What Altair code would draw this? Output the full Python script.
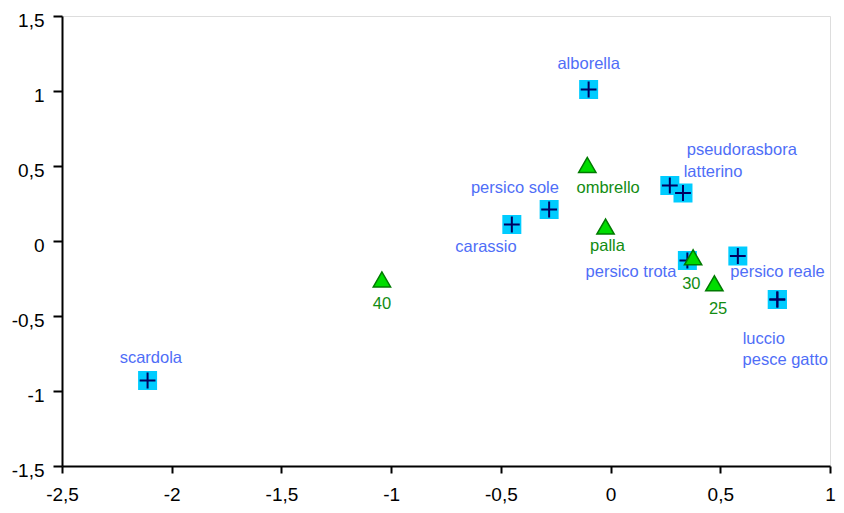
import altair as alt
import pandas as pd

# Species (objects) - coordinates on the two axes
species = ["scardola", "alborella", "persico sole", "carassio", "pseudorasbora",
           "latterino", "persico trota", "persico reale", "luccio", "pesce gatto"]
sp_x = [-2.11, -0.10, -0.28, -0.45, 0.27, 0.33, 0.35, 0.58, 0.76, 0.76]
sp_y = [-0.93, 1.01, 0.21, 0.11, 0.37, 0.32, -0.13, -0.10, -0.39, -0.39]
# label anchor points (data units)
sp_lx = [-2.095, -0.10, -0.436, -0.568, 0.598, 0.467, 0.093, 0.761, 0.698, 0.796]
sp_ly = [-0.813, 1.145, 0.322, -0.076, 0.573, 0.429, -0.238, -0.238, -0.689, -0.827]

# Sites / variables (triangles)
sites = ["ombrello", "palla", "30", "25", "40"]
st_x = [-0.106, -0.023, 0.376, 0.473, -1.042]
st_y = [0.507, 0.096, -0.109, -0.282, -0.256]
st_lx = [-0.011, -0.014, 0.368, 0.490, -1.042]
st_ly = [0.322, -0.065, -0.320, -0.489, -0.455]

x_ticks = [-2.5, -2, -1.5, -1, -0.5, 0, 0.5, 1]
y_ticks = [-1.5, -1, -0.5, 0, 0.5, 1, 1.5]

sp = pd.DataFrame({"name": species, "x": sp_x, "y": sp_y, "lx": sp_lx, "ly": sp_ly})
st = pd.DataFrame({"name": sites, "x": st_x, "y": st_y, "lx": st_lx, "ly": st_ly})

FONT = "Liberation Sans"
lab_expr = "replace(toString(datum.value), '.', ',')"

xs = alt.Scale(domain=[-2.5, 1], nice=False, zero=False)
ys = alt.Scale(domain=[-1.5, 1.5], nice=False, zero=False)

xaxis = alt.Axis(values=x_ticks, labelExpr=lab_expr, title=None, grid=False,
                 tickSize=7, tickWidth=2, tickColor="black", domainColor="black",
                 domainWidth=2, labelFontSize=19, labelFont=FONT, labelColor="black",
                 labelPadding=12, labelFlush=False, labelOverlap=False)
yaxis = alt.Axis(values=y_ticks, labelExpr=lab_expr, title=None, grid=False,
                 tickSize=9, tickWidth=2, tickColor="black", domainColor="black",
                 domainWidth=2, labelFontSize=19, labelFont=FONT, labelColor="black",
                 labelPadding=9, labelOffset=4, labelFlush=False, labelOverlap=False)

squares = alt.Chart(sp).mark_point(shape="square", filled=True, size=361,
                                   color="#00ccff", opacity=1).encode(
    x=alt.X("x:Q", scale=xs, axis=xaxis),
    y=alt.Y("y:Q", scale=ys, axis=yaxis),
)

crosses = alt.Chart(sp).mark_point(shape="M-1,0H1M0,-1V1", filled=False, size=250,
                                   color="#000060", strokeWidth=2, opacity=1).encode(
    x=alt.X("x:Q", scale=xs),
    y=alt.Y("y:Q", scale=ys),
)

triangles = alt.Chart(st).mark_point(shape="triangle-up", filled=True, size=300,
                                     fill="#00dd00", stroke="#007a00", strokeWidth=1.5,
                                     opacity=1).encode(
    x=alt.X("x:Q", scale=xs),
    y=alt.Y("y:Q", scale=ys),
)

sp_labels = alt.Chart(sp).mark_text(font=FONT, fontSize=16.5, color="#4f6ef7",
                                    align="center", baseline="alphabetic").encode(
    x=alt.X("lx:Q", scale=xs),
    y=alt.Y("ly:Q", scale=ys),
    text="name:N",
)

st_labels = alt.Chart(st).mark_text(font=FONT, fontSize=16.5, color="#128c12",
                                    align="center", baseline="alphabetic").encode(
    x=alt.X("lx:Q", scale=xs),
    y=alt.Y("ly:Q", scale=ys),
    text="name:N",
)

chart = alt.layer(squares, crosses, triangles, sp_labels, st_labels).properties(
    width=768, height=450,
    autosize=alt.AutoSizeParams(type="none"),
    padding={"left": 54, "top": 8, "right": 6, "bottom": 39},
).configure_view(stroke="black", strokeWidth=2).configure(background="white")

chart.save("out.html", embed_options={"renderer": "svg", "actions": False})
